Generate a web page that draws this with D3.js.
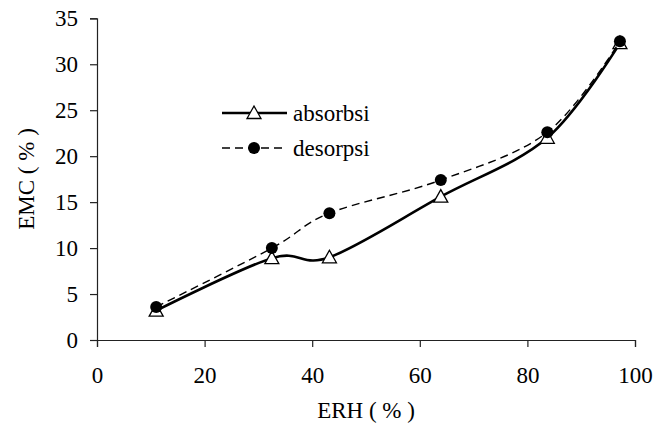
<!DOCTYPE html>
<html lang="id">
<head>
<meta charset="utf-8">
<script src="https://d3js.org/d3.v7.min.js"></script>
<style>
  body { margin: 0; background: #fff; }
</style>
</head>
<body>
<script>
// data
var erh = [11, 32.5, 43.2, 63.9, 83.7, 97.2];
var absorbsi = [3.2, 8.9, 9.0, 15.6, 22.0, 32.3];
var desorpsi = [3.6, 10.0, 13.8, 17.4, 22.6, 32.5];
var xTicks = [0, 20, 40, 60, 80, 100];
var yTicks = [0, 5, 10, 15, 20, 25, 30, 35];

var width = 669, height = 424;
var font = '"Liberation Serif", "Times New Roman", serif';
var svg = d3.select('body').append('svg').attr('width', width).attr('height', height)
  .attr('font-family', font).attr('font-size', 23);

var x = d3.scaleLinear().domain([0, 100]).range([97, 635]);
var y = d3.scaleLinear().domain([0, 35]).range([340, 18.3]);

// axes
var xAxis = svg.append('g').attr('transform', 'translate(0,340)')
  .call(d3.axisBottom(x).tickValues(xTicks).tickSize(7).tickPadding(20));
var yAxis = svg.append('g').attr('transform', 'translate(97,0)')
  .call(d3.axisLeft(y).tickValues(yTicks).tickSize(7).tickPadding(12));
[xAxis, yAxis].forEach(function(a) {
  a.attr('font-family', font).attr('font-size', 23);
  a.select('.domain').attr('stroke', '#222').attr('stroke-width', 1.2);
  a.selectAll('.tick line').attr('stroke', '#222').attr('stroke-width', 1.2);
  a.selectAll('.tick text').attr('fill', '#000');
});

svg.append('text').attr('x', 366).attr('y', 418).attr('text-anchor', 'middle')
  .text('ERH ( % )');
svg.append('text').attr('transform', 'translate(34,179) rotate(-90)').attr('text-anchor', 'middle')
  .text('EMC ( % )');

var line = function(vals) {
  return d3.line().curve(d3.curveCardinal.tension(0))
    .x(function(d, i) { return x(erh[i]); })
    .y(function(d) { return y(d); })(vals);
};

function tri(cx, cy) {
  var s = 7;
  return 'M' + cx + ',' + (cy - s) + 'L' + (cx + s) + ',' + (cy + 5.5) + 'L' + (cx - s) + ',' + (cy + 5.5) + 'Z';
}

// absorbsi
svg.append('path').attr('d', line(absorbsi)).attr('fill', 'none')
  .attr('stroke', '#000').attr('stroke-width', 2.6);
svg.selectAll('.tri').data(absorbsi).join('path').attr('class', 'tri')
  .attr('d', function(d, i) { return tri(x(erh[i]), y(d)); })
  .attr('fill', '#fff').attr('stroke', '#000').attr('stroke-width', 1.3);

// desorpsi
svg.append('path').attr('d', line(desorpsi)).attr('fill', 'none')
  .attr('stroke', '#000').attr('stroke-width', 1.4).attr('stroke-dasharray', '8,5');
svg.selectAll('.dot').data(desorpsi).join('circle').attr('class', 'dot')
  .attr('cx', function(d, i) { return x(erh[i]); })
  .attr('cy', function(d) { return y(d); })
  .attr('r', 6).attr('fill', '#000');

// legend
var lg = svg.append('g');
lg.append('line').attr('x1', 222).attr('x2', 287).attr('y1', 113).attr('y2', 113)
  .attr('stroke', '#000').attr('stroke-width', 2.6);
lg.append('path').attr('d', tri(254, 113)).attr('fill', '#fff').attr('stroke', '#000').attr('stroke-width', 1.3);
lg.append('text').attr('x', 293).attr('y', 121).text('absorbsi');
lg.append('line').attr('x1', 222).attr('x2', 287).attr('y1', 148).attr('y2', 148)
  .attr('stroke', '#000').attr('stroke-width', 1.4).attr('stroke-dasharray', '8,5');
lg.append('circle').attr('cx', 254).attr('cy', 148).attr('r', 6).attr('fill', '#000');
lg.append('text').attr('x', 293).attr('y', 156).text('desorpsi');
</script>
</body>
</html>
